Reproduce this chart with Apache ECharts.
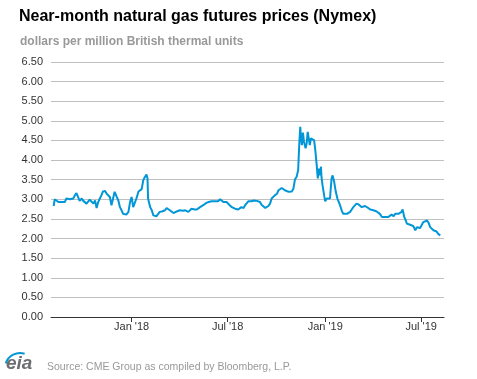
<!DOCTYPE html>
<html>
<head>
<meta charset="utf-8">
<script src="https://cdn.jsdelivr.net/npm/echarts@6/dist/echarts.min.js"></script>
<style>
html,body{margin:0;padding:0;background:#fff;}
#chart{width:477px;height:379px;}
</style>
</head>
<body>
<div id="chart"></div>
<script>
// Days since 2018-01-01 (trading dates, approximate)
var days = [
-147,-145,-142,-138,-135,-132,-129,-126,-123,-120,-116,-113,-110,-107,-104,-101,-98,-94,-91,-88,
-85,-82,-79,-76,-72,-69,-66,-63,-60,-57,-54,-50,-47,-44,-41,-38,-35,-32,-28,-25,
-22,-19,-16,-13,-10,-6,-3,0,3,6,9,13,16,19,22,25,28,30,31,35,
38,41,44,47,50,53,57,60,63,66,69,72,75,79,82,85,88,91,94,97,
101,104,107,110,113,116,119,123,126,129,132,135,138,141,145,148,151,154,157,160,
163,167,170,173,176,179,182,185,189,192,195,198,201,
204,207,211,214,217,220,223,226,230,233,236,239,242,245,248,252,255,258,261,264,
267,270,274,277,280,283,286,289,292,296,299,302,305,308,311,314,316,318,319,321,
323,325,328,330,332,334,336,338,341,344,346,349,351,353,355,357,358,360,363,365,
368,371,374,377,379,382,384,385,388,390,393,396,399,402,406,409,412,415,418,421,
424,428,431,434,437,440,443,446,450,453,456,459,462,465,468,472,475,478,481,484,
487,490,494,497,500,503,506,509,511,514,517,519,522,525,528,531,535,538,541,544,
547,550,553,557,560,563,566,569,572,575,578,582,583
];
// Near-month price, dollars per MMBtu
var prices = [
2.83,3.00,2.97,2.93,2.97,2.93,2.96,2.93,3.02,3.06,3.00,2.95,3.02,3.10,3.16,3.06,2.96,3.02,2.96,2.93,
2.89,2.85,2.99,2.97,2.89,2.97,2.78,2.93,3.02,3.10,3.20,3.21,3.14,3.10,3.06,2.85,3.02,3.19,3.06,2.97,
2.80,2.72,2.63,2.68,2.61,2.68,2.93,3.06,2.80,2.85,3.02,3.20,3.23,3.26,3.49,3.57,3.63,3.53,3.02,2.80,
2.72,2.59,2.57,2.57,2.61,2.68,2.69,2.74,2.72,2.78,2.78,2.72,2.69,2.65,2.62,2.69,2.74,2.72,2.69,2.71,
2.72,2.76,2.68,2.72,2.76,2.78,2.74,2.74,2.76,2.80,2.83,2.85,2.89,2.91,2.93,2.89,2.95,2.93,2.95,2.97,
2.95,3.00,2.95,2.93,2.97,2.93,2.89,2.85,2.80,2.78,2.76,2.74,2.74,
2.76,2.80,2.78,2.85,2.89,2.95,2.97,2.95,2.97,2.93,2.96,2.91,2.93,2.86,2.83,2.78,2.80,2.83,2.89,3.02,
3.06,3.10,3.14,3.23,3.26,3.29,3.26,3.23,3.27,3.19,3.23,3.20,3.27,3.51,3.57,3.74,4.38,4.85,4.64,4.38,
4.70,4.47,4.30,4.42,4.72,4.55,4.38,4.55,4.57,4.51,4.30,3.87,3.53,3.78,3.61,3.83,3.57,3.36,3.10,2.95,
3.02,2.97,3.02,3.53,3.61,3.44,3.49,3.19,3.02,2.97,2.85,2.72,2.63,2.59,2.63,2.61,2.68,2.74,2.80,2.85,
2.89,2.87,2.86,2.80,2.83,2.83,2.85,2.78,2.74,2.72,2.72,2.68,2.69,2.68,2.63,2.55,2.51,2.55,2.59,2.55,
2.57,2.61,2.57,2.63,2.59,2.63,2.61,2.68,2.74,2.55,2.46,2.38,2.34,2.35,2.38,2.32,2.21,2.29,2.34,2.27,
2.29,2.42,2.44,2.46,2.40,2.29,2.29,2.21,2.23,2.18,2.12,2.08,2.08
];
var tickDays = [0, 181, 365, 546];
var tickLabels = ["Jan '18", "Jul '18", "Jan '19", "Jul '19"];
var axisMinDay = -152, axisMaxDay = 589;

var FONT = '"Liberation Sans", Arial, sans-serif';
var seriesData = days.map(function (d, i) { return [d, prices[i]]; });

var chart = echarts.init(document.getElementById('chart'), null, { renderer: 'canvas' });
chart.setOption({
  animation: false,
  backgroundColor: '#ffffff',
  grid: { left: 51, right: 33, top: 62, bottom: 62, containLabel: false },
  xAxis: {
    type: 'value',
    min: axisMinDay,
    max: axisMaxDay,
    axisLine: { show: true, lineStyle: { color: '#333333', width: 1 } },
    axisTick: { show: true, customValues: tickDays, length: 5, lineStyle: { color: '#333333' } },
    axisLabel: {
      customValues: tickDays,
      margin: 4,
      color: '#333333',
      fontFamily: FONT,
      fontSize: 11,
      formatter: function (v) {
        var i = tickDays.indexOf(v);
        return i >= 0 ? tickLabels[i] : '';
      }
    },
    splitLine: { show: false }
  },
  yAxis: {
    type: 'value',
    min: 0,
    max: 6.5,
    interval: 0.5,
    axisLine: { show: false },
    axisTick: { show: false },
    axisLabel: {
      margin: 8,
      color: '#333333',
      fontFamily: FONT,
      fontSize: 11,
      formatter: function (v) { return v.toFixed(2); }
    },
    splitLine: { show: true, lineStyle: { color: '#c0c0c0', width: 1 } }
  },
  series: [{
    type: 'line',
    data: seriesData,
    showSymbol: false,
    lineStyle: { color: '#0096d7', width: 2 },
    itemStyle: { color: '#0096d7' }
  }],
  graphic: [
    { type: 'text', left: 19, top: 9,
      style: { text: 'Near-month natural gas futures prices (Nymex)', font: 'bold 16px ' + FONT, fill: '#000000' } },
    { type: 'text', left: 20, top: 36,
      style: { text: 'dollars per million British thermal units', font: 'bold 12px ' + FONT, fill: '#999999' } },
    { type: 'text', left: 47, top: 362,
      style: { text: 'Source: CME Group as compiled by Bloomberg, L.P.', font: '10.5px ' + FONT, fill: '#999999' } },
    { type: 'arc', shape: { cx: 20, cy: 368, r: 15, startAngle: Math.PI * 1.1, endAngle: Math.PI * 1.6 },
      style: { stroke: '#0096d7', lineWidth: 2, fill: null } },
    { type: 'text', left: 6, top: 354,
      style: { text: 'eia', font: 'bold italic 19px ' + FONT, fill: '#6d6e71' } }
  ]
});
</script>
</body>
</html>
